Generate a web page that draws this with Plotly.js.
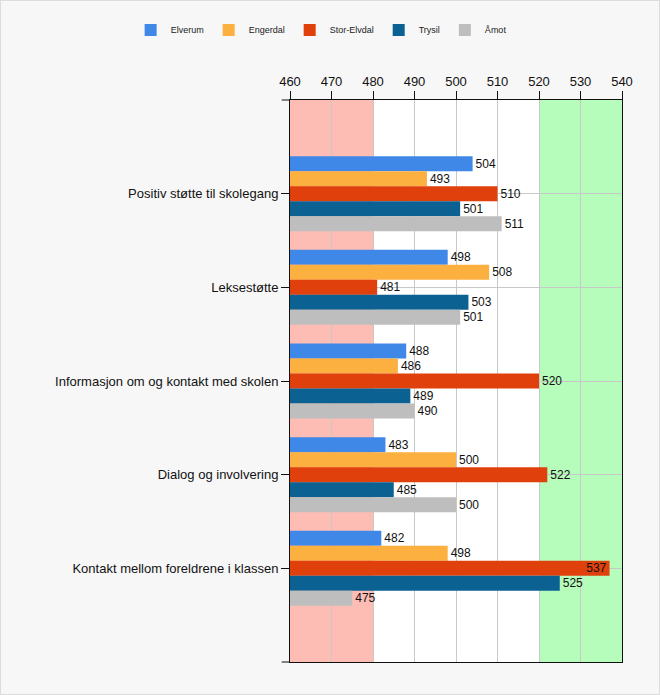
<!DOCTYPE html>
<html><head><meta charset="utf-8">
<script src="https://cdn.plot.ly/plotly-3.0.1.min.js"></script>
<style>
html,body{margin:0;padding:0;background:#f7f7f7;}
#wrap{width:658px;height:693px;border:1px solid #dcdcdc;}
#chart{width:658px;height:693px;}
</style></head>
<body><div id="wrap"><div id="chart"></div></div>
<script>
const categories = ["Positiv støtte til skolegang","Leksestøtte","Informasjon om og kontakt med skolen","Dialog og involvering","Kontakt mellom foreldrene i klassen"];
const seriesNames = ["Elverum","Engerdal","Stor-Elvdal","Trysil","Åmot"];
const elverum = [504,498,488,483,482];
const engerdal = [493,508,486,500,498];
const storElvdal = [510,481,520,522,537];
const trysil = [501,503,489,485,525];
const amot = [511,501,490,500,475];
const xTicks = [460,470,480,490,500,510,520,530,540];
const lowBand = [460,480];
const highBand = [520,540];

const values = [elverum, engerdal, storElvdal, trysil, amot];
const colors = ["#3f88e8","#fbb040","#e0410c","#0a6192","#bebebe"];
const xMax = 540;

const traces = values.map((v,i)=>({
  type:'bar', orientation:'h', name:seriesNames[i],
  x:v, y:categories, marker:{color:colors[i]},
  text:v.map(String),
  textposition:v.map(val=> (val-460)/(xMax-460) > 0.92 ? 'inside':'outside'),
  insidetextanchor:'end',
  constraintext:'none',
  textfont:{family:'Liberation Sans, Arial, sans-serif', size:12, color:'#111'},
  insidetextfont:{color:'#111', size:12},
  outsidetextfont:{color:'#111', size:12},
  cliponaxis:false,
  hoverinfo:'x+name'
}));

const layout = {
  width:658, height:693,
  paper_bgcolor:'#f7f7f7', plot_bgcolor:'#ffffff',
  margin:{l:289, r:37, t:99, b:32},
  barmode:'group', bargap:0.2, bargroupgap:0,
  font:{family:'Liberation Sans, Arial, sans-serif', size:12, color:'#111'},
  showlegend:true,
  legend:{orientation:'h', x:-0.48, xanchor:'left', y:1.1246, yanchor:'middle',
          font:{size:9, color:'#222'}, traceorder:'normal', bgcolor:'rgba(0,0,0,0)',
          itemwidth:30},
  xaxis:{side:'top', range:[460,540], tickvals:xTicks, ticks:'outside', ticklen:8,
         tickcolor:'#111', showline:true, linecolor:'#111', mirror:true,
         showgrid:true, gridcolor:'#c8c8c8', zeroline:false,
         tickfont:{size:13, color:'#111'}, fixedrange:true},
  yaxis:{type:'category', range:[5,-1], ticks:'outside', ticklen:8, tickcolor:'#111',
         showline:true, linecolor:'#111', mirror:true,
         showgrid:true, gridcolor:'#c8c8c8', tickfont:{size:13, color:'#111'},
         fixedrange:true},
  shapes:[
    {type:'rect', layer:'below', xref:'x', yref:'paper', x0:lowBand[0], x1:lowBand[1], y0:0, y1:1, fillcolor:'#fdbdb5', line:{width:0}},
    {type:'rect', layer:'below', xref:'x', yref:'paper', x0:highBand[0], x1:highBand[1], y0:0, y1:1, fillcolor:'#b6fcbb', line:{width:0}},
    {type:'line', xref:'paper', yref:'paper', x0:-0.025, x1:0, y0:0, y1:0, line:{color:'#111', width:1}},
    {type:'line', xref:'paper', yref:'paper', x0:-0.025, x1:0, y0:1, y1:1, line:{color:'#111', width:1}}
  ]
};
Plotly.newPlot('chart', traces, layout, {displayModeBar:false, staticPlot:false});
</script></body></html>
